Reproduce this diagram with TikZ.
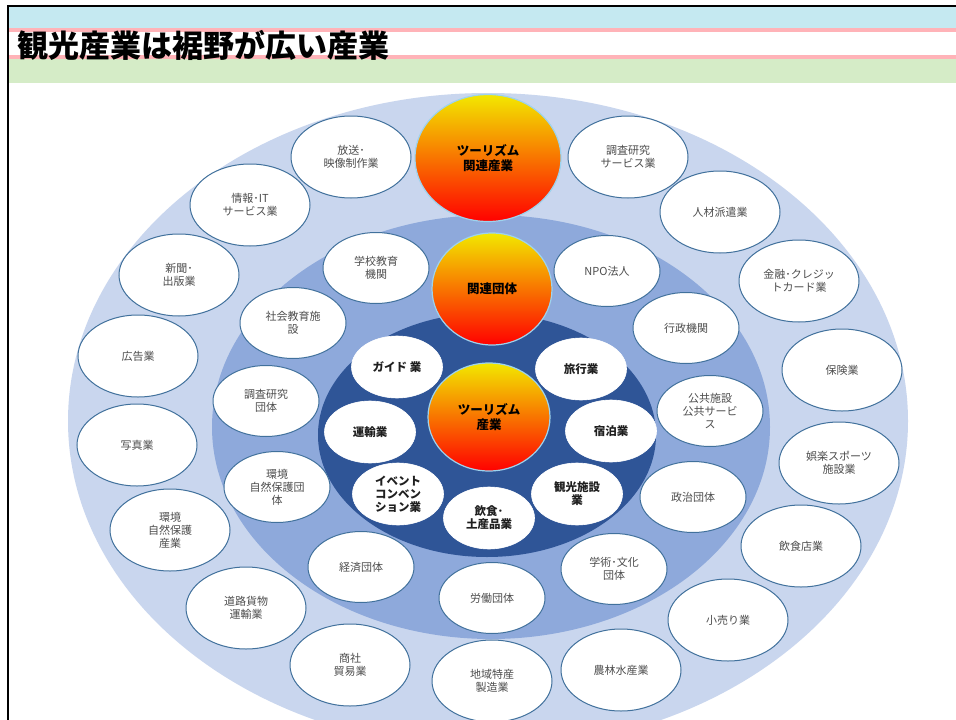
\documentclass[tikz,border=0pt]{standalone}
\usepackage{fontspec}
\setmainfont{Noto Sans CJK JP}
\usetikzlibrary{shapes.geometric}
\definecolor{bandblue}{HTML}{C5E9F1}
\definecolor{bandpink}{HTML}{FFB3B8}
\definecolor{bandgreen}{HTML}{D5ECC7}
\definecolor{ringA}{HTML}{C9D6EE}
\definecolor{ringB}{HTML}{8EA9DB}
\definecolor{ringC}{HTML}{2F5597}
\definecolor{ovalline}{HTML}{41719C}
\definecolor{labelgray}{HTML}{4D4D4D}
\definecolor{hubline}{HTML}{9DD3EE}
\definecolor{hubtop}{HTML}{F2E800}
\definecolor{hubmid}{HTML}{FFB400}
\definecolor{hubbot}{HTML}{FF0000}
\tikzset{
  outerov/.style={ellipse, draw=ovalline, line width=1pt, fill=white,
    minimum width=120pt, minimum height=82pt, inner sep=0pt, align=center,
    font=\fontsize{11}{13}\selectfont, text=labelgray},
  midov/.style={outerov, minimum width=106pt, minimum height=71pt},
  innerov/.style={ellipse, fill=white, draw=white, line width=0.6pt,
    minimum width=91pt, minimum height=62pt, inner sep=0pt, align=center,
    font=\bfseries\fontsize{11.5}{13}\selectfont, text=black!88},
  hub/.style={ellipse, draw=hubline, line width=1.2pt, inner sep=0pt,
    top color=hubtop, middle color=hubmid, bottom color=hubbot,
    align=center, font=\bfseries\fontsize{12.5}{15.5}\selectfont, text=black}
}
\begin{document}
\begin{tikzpicture}[x=1pt,y=-1pt]
\useasboundingbox (0,0) rectangle (956,720);
\fill[white] (0,0) rectangle (956,720);
% title bands
\fill[bandblue] (8,7) rectangle (956,28);
\fill[bandpink] (8,28) rectangle (956,32);
\fill[bandpink] (8,55) rectangle (956,59);
\fill[bandgreen] (8,59) rectangle (956,83);
\draw[line width=2.2pt] (8,720) -- (8,6) -- (956,6);
\node[anchor=west, inner sep=0pt, font=\bfseries\fontsize{31}{31}\selectfont] (title) at (17,45) {観光産業は裾野が広い産業};
% rings
\begin{scope}
\clip (10,84) rectangle (956,720);
\fill[ringA] (488,421) ellipse [x radius=420pt, y radius=328pt];
\fill[ringB] (491,427) ellipse [x radius=279pt, y radius=212pt];
\fill[ringC] (487,435) ellipse [x radius=169pt, y radius=122pt];
\end{scope}
% outer ring
\node[outerov] (o1) at (351,157) {放送･\\映像制作業};
\node[outerov] (o2) at (250,205) {情報･IT\\サービス業};
\node[outerov] (o3) at (179,275) {新聞･\\出版業};
\node[outerov] (o4) at (138,356) {広告業};
\node[outerov] (o5) at (137,445) {写真業};
\node[outerov] (o6) at (170,530) {環境\\自然保護\\産業};
\node[outerov] (o7) at (246,608) {道路貨物\\運輸業};
\node[outerov] (o8) at (350,665) {商社\\貿易業};
\node[outerov] (o9) at (492,681) {地域特産\\製造業};
\node[outerov] (o10) at (621,670) {農林水産業};
\node[outerov] (o11) at (728,620) {小売り業};
\node[outerov] (o12) at (801,546) {飲食店業};
\node[outerov] (o13) at (839,463) {娯楽スポーツ\\施設業};
\node[outerov] (o14) at (842,370) {保険業};
\node[outerov] (o15) at (799,281) {金融･クレジッ\\トカード業};
\node[outerov] (o16) at (720,212) {人材派遣業};
\node[outerov] (o17) at (628,157) {調査研究\\サービス業};
% middle ring
\node[midov] (m1) at (376,268) {学校教育\\機関};
\node[midov] (m2) at (293,323) {社会教育施\\設};
\node[midov] (m3) at (266,401) {調査研究\\団体};
\node[midov] (m4) at (277,487) {環境\\自然保護団\\体};
\node[midov] (m5) at (361,567) {経済団体};
\node[midov] (m6) at (492,598) {労働団体};
\node[midov] (m7) at (614,569) {学術･文化\\団体};
\node[midov] (m8) at (693,497) {政治団体};
\node[midov] (m9) at (710,411) {公共施設\\公共サービ\\ス};
\node[midov] (m10) at (686,328) {行政機関};
\node[midov] (m11) at (607,271) {NPO法人};
% hubs
\node[hub, minimum width=146pt, minimum height=127pt] (h1) at (488,158) {ツーリズム\\関連産業};
\node[hub, minimum width=120pt, minimum height=112pt] (h2) at (492,289) {関連団体};
\node[hub, minimum width=122pt, minimum height=108pt] (h3) at (489,417) {ツーリズム\\産業};
% inner ring
\node[innerov] (i1) at (397,367) {ガイド 業};
\node[innerov] (i2) at (581,369) {旅行業};
\node[innerov] (i3) at (370,432) {運輸業};
\node[innerov] (i4) at (611,431) {宿泊業};
\node[innerov] (i5) at (398,494) {イベント\\コンベン\\ション業};
\node[innerov] (i6) at (577,494) {観光施設\\業};
\node[innerov] (i7) at (489,518) {飲食･\\土産品業};
\end{tikzpicture}
\end{document}
